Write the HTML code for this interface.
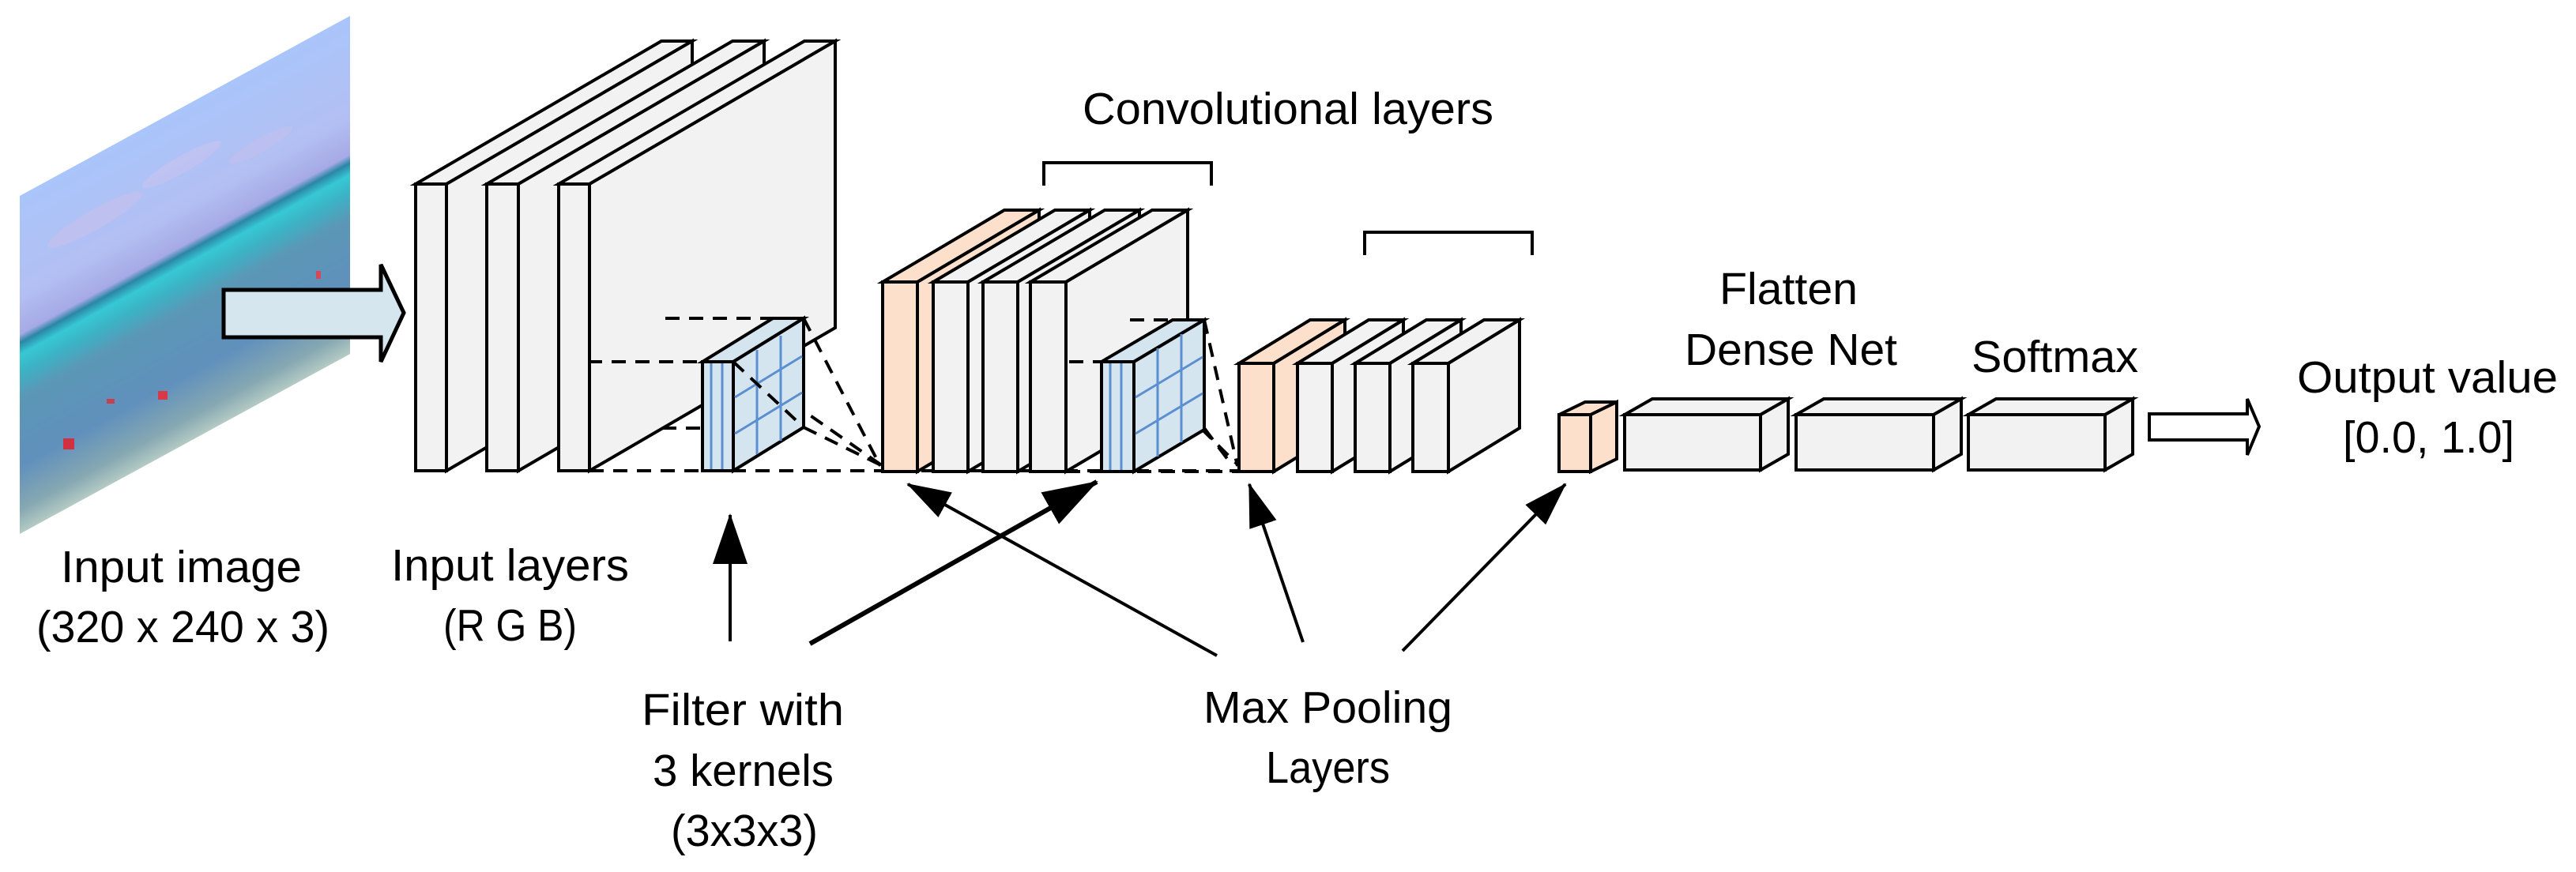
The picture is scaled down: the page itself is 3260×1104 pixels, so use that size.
<!DOCTYPE html>
<html><head><meta charset="utf-8"><style>
html,body{margin:0;padding:0;background:#fff;}
svg{display:block;}
text{font-family:"Liberation Sans",sans-serif;fill:#000;}
</style></head><body>
<svg width="3260" height="1104" viewBox="0 0 3260 1104" xmlns="http://www.w3.org/2000/svg">
<defs>
<linearGradient id="sky" x1="0" y1="248" x2="0" y2="676" gradientUnits="userSpaceOnUse">
<stop offset="0" stop-color="#a9c5fb"/>
<stop offset="0.3" stop-color="#b3bff2"/>
<stop offset="0.41" stop-color="#a6aae6"/>
<stop offset="0.435" stop-color="#2b86a6"/>
<stop offset="0.47" stop-color="#37c8d4"/>
<stop offset="0.52" stop-color="#3ab4c6"/>
<stop offset="0.6" stop-color="#5b97b6"/>
<stop offset="0.8" stop-color="#6090bc"/>
<stop offset="0.93" stop-color="#86a8b2"/>
<stop offset="1" stop-color="#b4cac4"/>
</linearGradient>
<marker id="ahT" markerWidth="70" markerHeight="46" refX="68" refY="23" orient="auto" markerUnits="userSpaceOnUse"><path d="M0,0 L70,23 L0,46 Z" fill="#000"/></marker>
<marker id="ah" markerWidth="56" markerHeight="36" refX="54" refY="18" orient="auto" markerUnits="userSpaceOnUse"><path d="M0,0 L56,18 L0,36 Z" fill="#000"/></marker>
<marker id="ahV" markerWidth="64" markerHeight="44" refX="62" refY="22" orient="auto" markerUnits="userSpaceOnUse"><path d="M0,0 L64,22 L0,44 Z" fill="#000"/></marker>
</defs>

<!-- input image -->
<g transform="translate(25,0) skewY(-28.6) translate(-25,0)">
<rect x="25" y="248" width="418" height="428" fill="url(#sky)"/>
<ellipse cx="120" cy="330" rx="60" ry="14" fill="#c8c0ec" opacity="0.6"/>
<ellipse cx="230" cy="320" rx="50" ry="12" fill="#cdc4ee" opacity="0.5"/>
<ellipse cx="330" cy="350" rx="40" ry="10" fill="#c8c0ec" opacity="0.5"/>
</g>
<rect x="80" y="555" width="14" height="14" fill="#d23040"/>
<rect x="200" y="495" width="12" height="11" fill="#d83848"/>
<rect x="135" y="505" width="10" height="6" fill="#c84050"/>
<rect x="347" y="370" width="10" height="10" fill="#d83848"/>
<rect x="400" y="343" width="6" height="10" fill="#d84858"/>

<!-- big input arrow -->
<polygon points="283,367 482,367 482,335 511,396 482,458 482,427 283,427" fill="#d6e6ef" stroke="#000" stroke-width="5"/>

<g stroke="#000" stroke-width="4" stroke-linejoin="miter">
<g fill="#f2f2f2">
<polygon points="526,233 837,52 876,52 565,233"/><polygon points="565,233 876,52 876,415 565,596"/><rect x="526" y="233" width="39" height="363"/>
<polygon points="616,233 927,52 967,52 656,233"/><polygon points="656,233 967,52 967,415 656,596"/><rect x="616" y="233" width="40" height="363"/>
<polygon points="707,233 1018,52 1057,52 746,233"/><polygon points="746,233 1057,52 1057,415 746,596"/><rect x="707" y="233" width="39" height="363"/>
</g>
</g>

<g stroke="#000" stroke-width="4" stroke-dasharray="18,12" fill="none">
<line x1="746" y1="596" x2="1568" y2="596"/>
<line x1="842" y1="403" x2="1017" y2="403"/>
<line x1="744" y1="458" x2="889" y2="458"/>
<line x1="838" y1="542" x2="889" y2="542"/>
<line x1="1017" y1="403" x2="1114" y2="590"/>
<line x1="928" y1="458" x2="1117" y2="590"/>
<line x1="1017" y1="541" x2="1117" y2="590"/>
</g>

<g stroke="#000" stroke-width="4" fill="#d5e5f0">
<polygon points="889,458 978,403 1017,403 928,458"/>
<polygon points="928,458 1017,403 1017,541 928,596"/>
<rect x="889" y="458" width="39" height="138"/>
</g>
<g stroke="#5b8fd0" stroke-width="3" fill="none">
<line x1="900" y1="460" x2="900" y2="594"/><line x1="914" y1="460" x2="914" y2="594"/>
<line x1="958" y1="443" x2="958" y2="575"/><line x1="988" y1="425" x2="988" y2="558"/>
<line x1="930" y1="503" x2="1015" y2="451"/><line x1="930" y1="549" x2="1015" y2="497"/>
</g>
<g stroke="#000" stroke-width="4" fill="none" stroke-dasharray="18,12">
<line x1="928" y1="458" x2="1017" y2="541"/>
</g>

<g stroke="#000" stroke-width="4">
<g fill="#fde0cb">
<polygon points="1117,357 1271,266 1315,266 1161,357"/><polygon points="1161,357 1315,266 1315,506 1161,597"/><rect x="1117" y="357" width="44" height="240"/>
</g>
<g fill="#f2f2f2">
<polygon points="1181,357 1335,266 1379,266 1225,357"/><polygon points="1225,357 1379,266 1379,506 1225,597"/><rect x="1181" y="357" width="44" height="240"/>
<polygon points="1244,357 1398,266 1442,266 1288,357"/><polygon points="1288,357 1442,266 1442,506 1288,597"/><rect x="1244" y="357" width="44" height="240"/>
<polygon points="1304,357 1458,266 1503,266 1349,357"/><polygon points="1349,357 1503,266 1503,506 1349,597"/><rect x="1304" y="357" width="45" height="240"/>
</g>
</g>
<g stroke="#000" stroke-width="4" stroke-dasharray="18,12" fill="none">
<line x1="1430" y1="405" x2="1524" y2="405"/>
<line x1="1353" y1="458" x2="1394" y2="458"/>
<line x1="1349" y1="597" x2="1568" y2="597"/>
<line x1="1524" y1="405" x2="1566" y2="590"/>
<line x1="1435" y1="458" x2="1568" y2="590"/>
<line x1="1524" y1="542" x2="1560" y2="590"/>
</g>
<g stroke="#000" stroke-width="4" fill="#d5e5f0">
<polygon points="1394,458 1484,405 1524,405 1435,458"/>
<polygon points="1435,458 1524,405 1524,544 1435,597"/>
<rect x="1394" y="458" width="41" height="139"/>
</g>
<g stroke="#5b8fd0" stroke-width="3" fill="none">
<line x1="1405" y1="460" x2="1405" y2="595"/><line x1="1419" y1="460" x2="1419" y2="595"/>
<line x1="1465" y1="441" x2="1465" y2="578"/><line x1="1495" y1="423" x2="1495" y2="560"/>
<line x1="1437" y1="503" x2="1522" y2="452"/><line x1="1437" y1="549" x2="1522" y2="498"/>
</g>

<g stroke="#000" stroke-width="4">
<g fill="#fde0cb">
<polygon points="1568,460 1658,405 1702,405 1612,460"/><polygon points="1612,460 1702,405 1702,542 1612,597"/><rect x="1568" y="460" width="44" height="137"/>
</g>
<g fill="#f2f2f2">
<polygon points="1642,460 1732,405 1776,405 1686,460"/><polygon points="1686,460 1776,405 1776,542 1686,597"/><rect x="1642" y="460" width="44" height="137"/>
<polygon points="1715,460 1805,405 1849,405 1759,460"/><polygon points="1759,460 1849,405 1849,542 1759,597"/><rect x="1715" y="460" width="44" height="137"/>
<polygon points="1788,460 1878,405 1923,405 1833,460"/><polygon points="1833,460 1923,405 1923,542 1833,597"/><rect x="1788" y="460" width="45" height="137"/>
</g>
<g fill="#fde0cb">
<polygon points="1973,525 2006,509 2046,509 2013,525"/><polygon points="2013,525 2046,509 2046,581 2013,597"/><rect x="1973" y="525" width="40" height="72"/>
</g>
<g fill="#f2f2f2">
<polygon points="2056,525 2091,505 2263,505 2228,525"/><polygon points="2228,525 2263,505 2263,575 2228,595"/><rect x="2056" y="525" width="172" height="70"/>
<polygon points="2273,525 2308,505 2482,505 2447,525"/><polygon points="2447,525 2482,505 2482,575 2447,595"/><rect x="2273" y="525" width="174" height="70"/>
<polygon points="2491,525 2526,505 2699,505 2664,525"/><polygon points="2664,525 2699,505 2699,575 2664,595"/><rect x="2491" y="525" width="173" height="70"/>
</g>
</g>
<polygon points="2720,524 2844,524 2844,505 2859,540 2844,576 2844,557 2720,557" fill="#fff" stroke="#000" stroke-width="4"/>

<g stroke="#000" stroke-width="4" fill="none">
<polyline points="1321,235 1321,206 1533,206 1533,235"/>
<polyline points="1727,323 1727,294 1939,294 1939,323"/>
</g>

<g stroke="#000" fill="none">
<line x1="924" y1="812" x2="924" y2="652" stroke-width="4" marker-end="url(#ahV)"/>
<line x1="1025" y1="815" x2="1388" y2="610" stroke-width="6" marker-end="url(#ahT)"/>
<line x1="1540" y1="830" x2="1149" y2="613" stroke-width="4" marker-end="url(#ah)"/>
<line x1="1649" y1="813" x2="1581" y2="613" stroke-width="4" marker-end="url(#ah)"/>
<line x1="1775" y1="824" x2="1981" y2="613" stroke-width="4" marker-end="url(#ah)"/>
</g>

<g font-size="57">
<text x="1370" y="157" textLength="520" lengthAdjust="spacingAndGlyphs">Convolutional layers</text>
<text x="77" y="737" textLength="305" lengthAdjust="spacingAndGlyphs">Input image</text>
<text x="46" y="813" textLength="371" lengthAdjust="spacingAndGlyphs">(320 x 240 x 3)</text>
<text x="495" y="735" textLength="301" lengthAdjust="spacingAndGlyphs">Input layers</text>
<text x="561" y="811" textLength="169" lengthAdjust="spacingAndGlyphs">(R G B)</text>
<text x="812" y="918" textLength="256" lengthAdjust="spacingAndGlyphs">Filter with</text>
<text x="826" y="995" textLength="229" lengthAdjust="spacingAndGlyphs">3 kernels</text>
<text x="849" y="1071" textLength="186" lengthAdjust="spacingAndGlyphs">(3x3x3)</text>
<text x="1523" y="915" textLength="315" lengthAdjust="spacingAndGlyphs">Max Pooling</text>
<text x="1602" y="991" textLength="157" lengthAdjust="spacingAndGlyphs">Layers</text>
<text x="2176" y="385" textLength="175" lengthAdjust="spacingAndGlyphs">Flatten</text>
<text x="2132" y="462" textLength="269" lengthAdjust="spacingAndGlyphs">Dense Net</text>
<text x="2495" y="471" textLength="211" lengthAdjust="spacingAndGlyphs">Softmax</text>
<text x="2907" y="497" textLength="330" lengthAdjust="spacingAndGlyphs">Output value</text>
<text x="2965" y="573" textLength="217" lengthAdjust="spacingAndGlyphs">[0.0, 1.0]</text>
</g>
</svg>
</body></html>
